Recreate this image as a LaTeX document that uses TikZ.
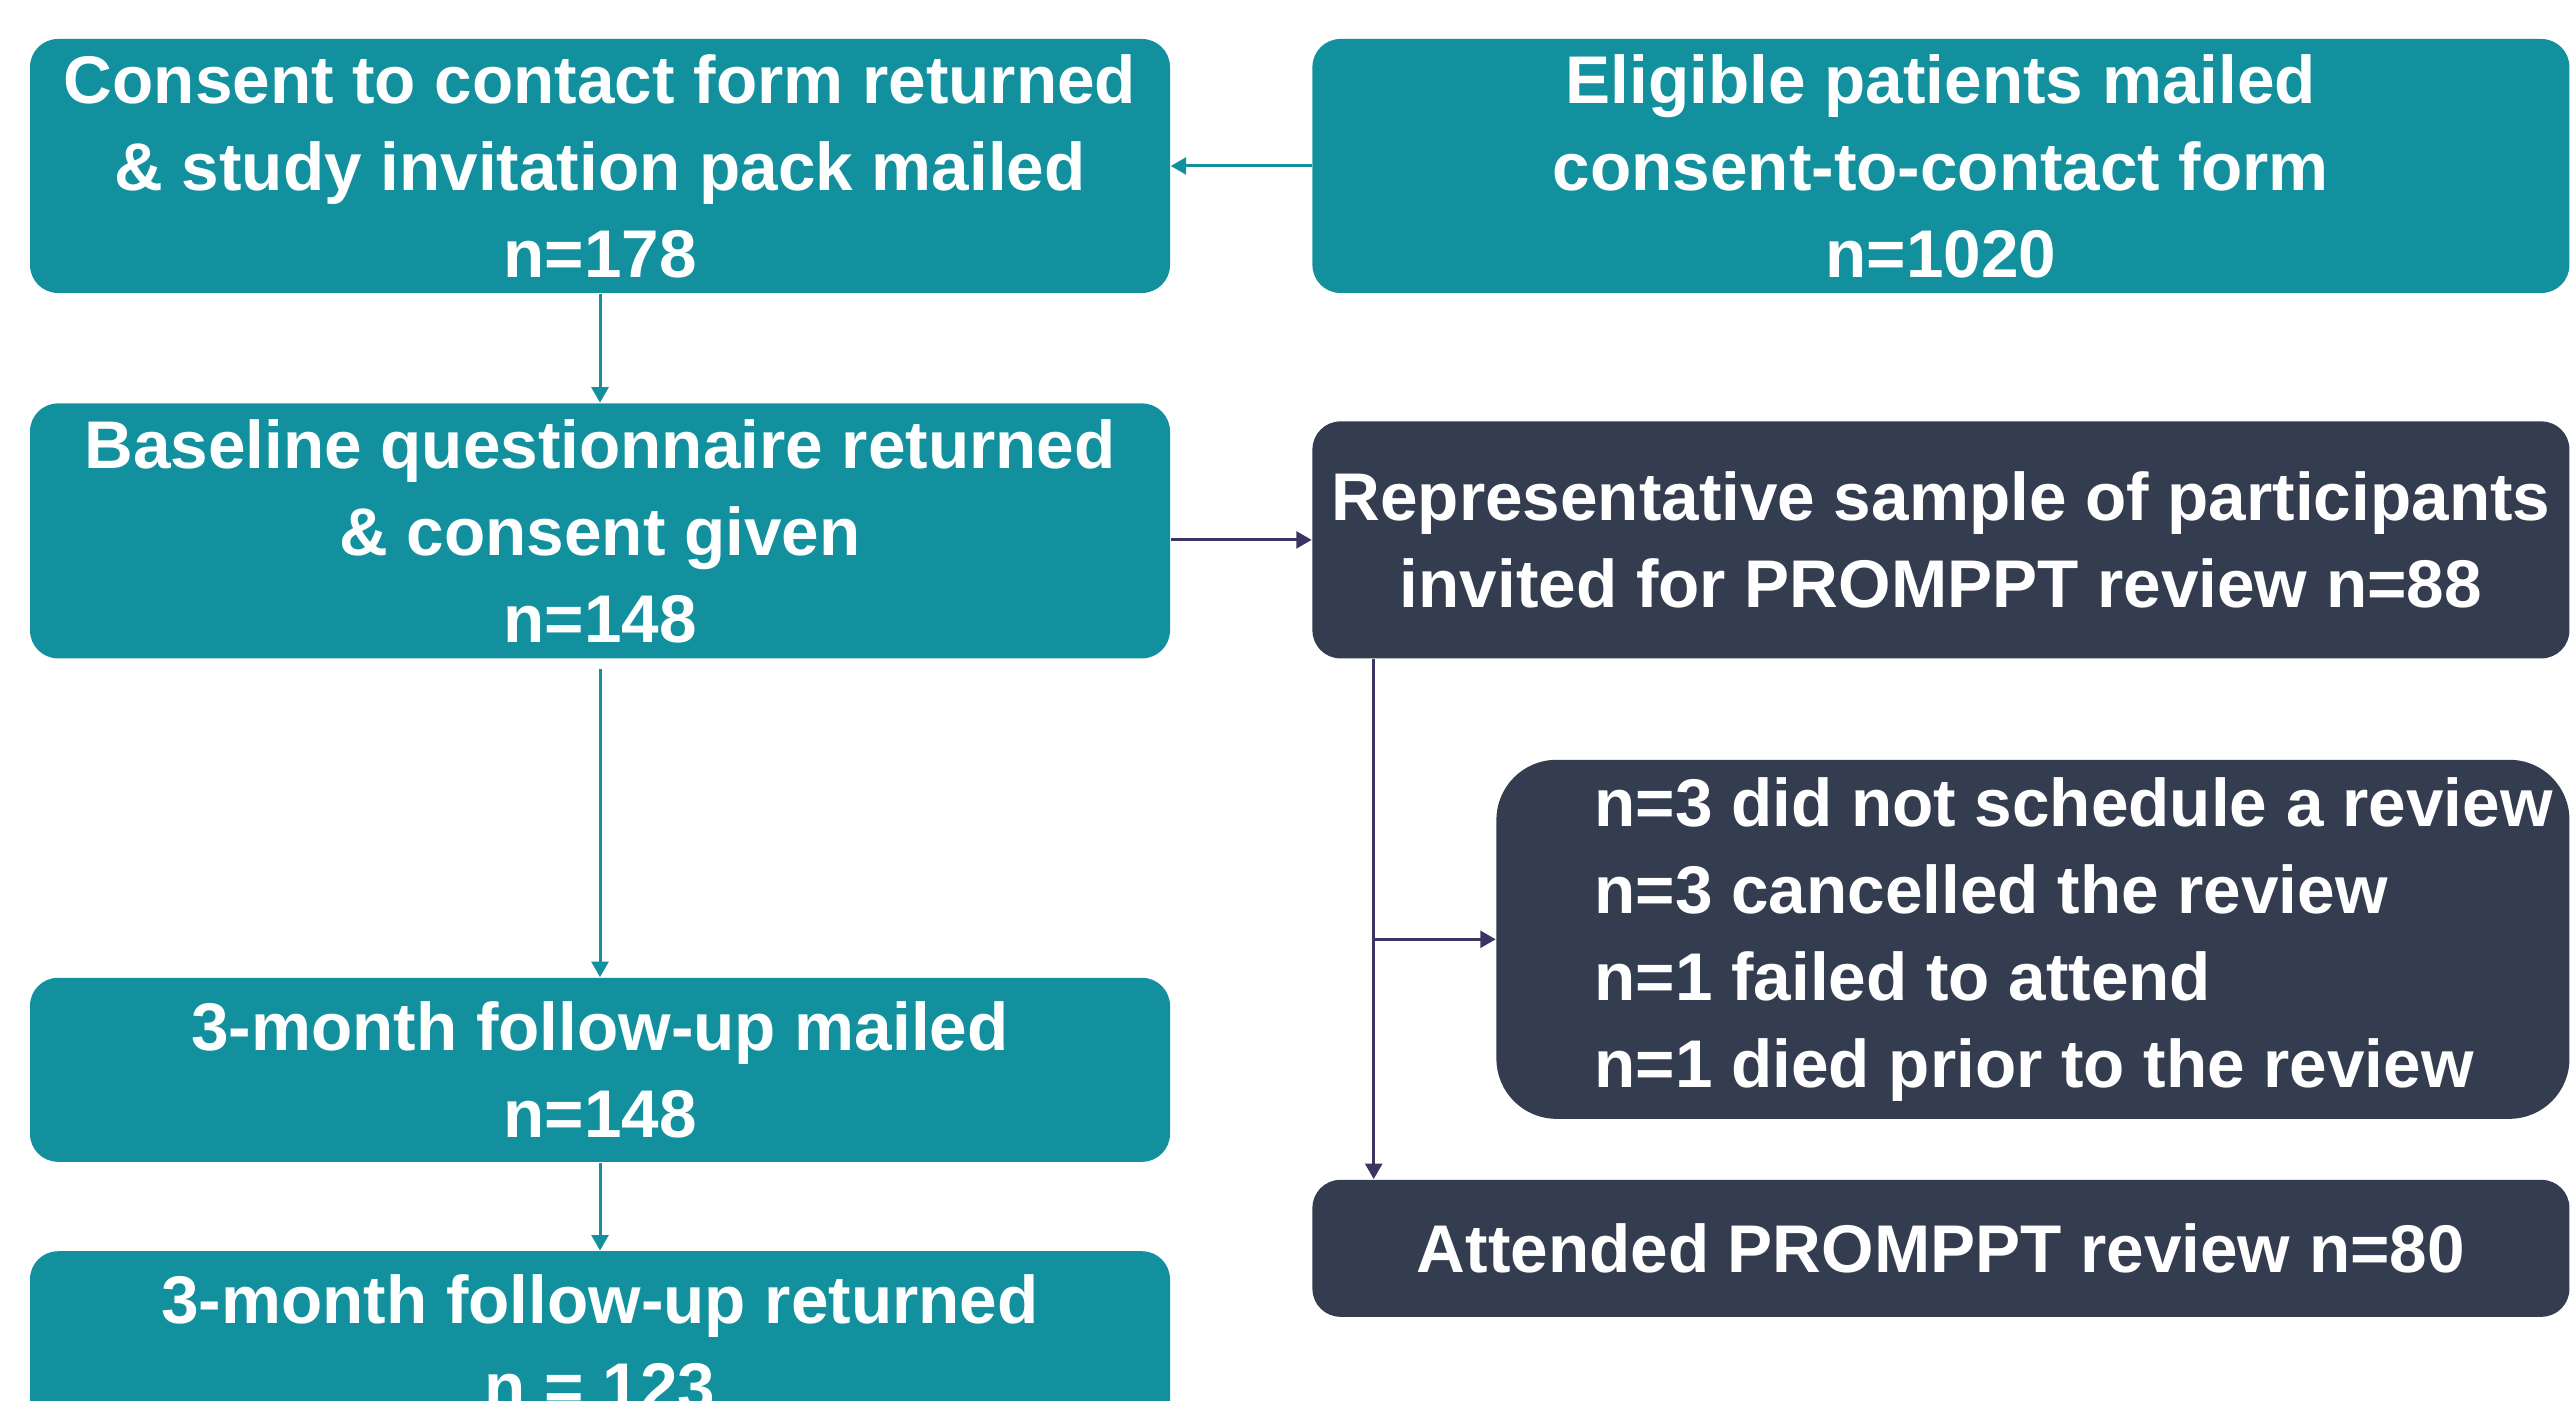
\documentclass[tikz,border=0pt]{standalone}
\usepackage{fontspec}
\setmainfont{Liberation Sans}
\usepackage{tikz}
\usetikzlibrary{positioning,arrows.meta,calc}
\definecolor{tealfill}{HTML}{13909E}
\definecolor{darkfill}{HTML}{343D4F}
\definecolor{darkline}{HTML}{3A3563}
\tikzstyle{tealarrow} = [line width=0.85pt,draw=tealfill,-{Triangle[length=4.4pt,width=4.8pt]}]
\tikzstyle{darkarrow} = [line width=0.85pt,draw=darkline,-{Triangle[length=4.4pt,width=4.8pt]}]

\begin{document}
\begin{tikzpicture}
\tikzset{%
	boxtext/.style = { text=white, font=\fontsize{19.2}{24.75}\selectfont\bfseries },
	tealbox/.style = { rectangle, rounded corners=0.28cm, fill=tealfill, boxtext, align=center, inner sep=0pt },
	darkbox/.style = { rectangle, rounded corners=0.28cm, fill=darkfill, boxtext, align=center, inner sep=0pt },
	listtext/.style = { boxtext, align=left, inner sep=0pt }
}
\useasboundingbox (0,0) rectangle (25.7,-14.01);

\node(Consent)			[tealbox, minimum width=11.4cm, minimum height=2.54cm] at (6.0,-1.66)
								{Consent to contact form returned\\ \& study invitation pack mailed\\ n=178};
\node(Baseline)			[tealbox, minimum width=11.4cm, minimum height=2.55cm, below=1.09cm of Consent]
								{Baseline questionnaire returned\\ \& consent given\\ n=148};
\node(FollowUpMailed)	[tealbox, minimum width=11.4cm, minimum height=1.84cm, below=3.18cm of Baseline]
								{3-month follow-up mailed\\ n=148};
\node(FollowUpReturned)	[tealbox, minimum width=11.4cm, minimum height=1.84cm, below=0.88cm of FollowUpMailed]
								{3-month follow-up returned\\ n = 123};

\node(Eligible)			[tealbox, minimum width=12.57cm, minimum height=2.54cm, right=1.41cm of Consent]
								{Eligible patients mailed\\ consent-to-contact form\\ n=1020};
\node(Invited)			[darkbox, minimum width=12.57cm, minimum height=2.37cm, below=1.27cm of Eligible]
								{Representative sample of participants\\ invited for PROMPPT review n=88};
\node(DropOut)			[darkbox, rounded corners=0.6cm, minimum width=10.73cm, minimum height=3.59cm,
								below=1.0cm of Invited.south east, anchor=north east]
								{};
\node(DropOutText)		[listtext, anchor=west] at ([xshift=0.98cm]DropOut.west)
								{n=3 did not schedule a review\\ n=3 cancelled the review\\ n=1 failed to attend\\ n=1 died prior to the review};
\node(Attended)			[darkbox, minimum width=12.57cm, minimum height=1.37cm, below=5.2cm of Invited]
								{Attended PROMPPT review n=80};

\coordinate (Branch) at ([xshift=0.62cm]Invited.south west);

\draw [tealarrow]	(Eligible) -- (Consent);
\draw [tealarrow]	(Consent) -- (Baseline);
\draw [tealarrow, shorten <=0.1cm]	(Baseline) -- (FollowUpMailed);
\draw [tealarrow]	(FollowUpMailed) -- (FollowUpReturned);

\draw [darkarrow]	(Invited.west -| Baseline.east) -- (Invited.west);
\draw [darkarrow]	(Branch) -- (Branch |- Attended.north);
\draw [darkarrow]	(Branch |- DropOut.west) -- (DropOut.west);

\end{tikzpicture}
\end{document}
